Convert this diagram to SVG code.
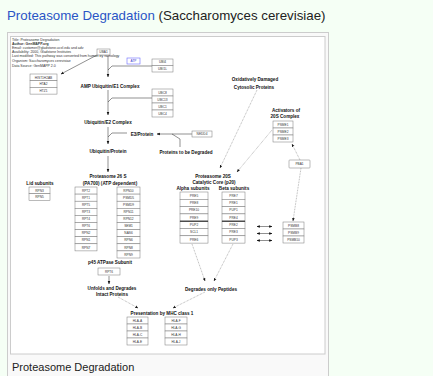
<svg xmlns="http://www.w3.org/2000/svg" width="433" height="376" viewBox="0 0 433 376">
<defs>
<marker id="ah" viewBox="0 0 10 10" refX="9" refY="5" markerWidth="3.2" markerHeight="3.2" markerUnits="userSpaceOnUse" orient="auto-start-reverse"><path d="M0,1 L10,5 L0,9 z" fill="#111"/></marker>
</defs>
<style>
.lb{font-family:"Liberation Sans",Arial,sans-serif;font-size:4.6px;font-weight:bold;text-anchor:middle;fill:#111}
.bx rect{fill:#fff;stroke:#777;stroke-width:0.5}
.bx text{font-family:"Liberation Sans",Arial,sans-serif;font-size:3.2px;text-anchor:middle;fill:#333}
.c{fill:none;stroke:#222;stroke-width:0.5}
.d{fill:none;stroke:#555;stroke-width:0.45;stroke-dasharray:0.8 0.8}
.lg{font-family:"Liberation Sans",Arial,sans-serif;font-size:3.5px;fill:#333}
.sep{stroke:#333;stroke-width:1.2}
</style>
<rect width="433" height="376" fill="#f5fff5"/>
<text x="7" y="20" font-family="Liberation Sans, Arial, sans-serif" font-size="13.3" fill="#2a55c6">Proteasome Degradation <tspan fill="#222">(Saccharomyces cerevisiae)</tspan></text>
<rect x="7.5" y="32.5" width="321" height="350" fill="#f9f9f9" stroke="#ccc"/>
<rect x="10.5" y="36.5" width="314.5" height="317.5" fill="#fff" stroke="#ccc"/>
<text x="12" y="371" font-family="Liberation Sans, Arial, sans-serif" font-size="11" fill="#222">Proteasome Degradation</text>

<g id="legend">
<text class="lg" x="12" y="41">Title: Proteasome Degradation</text>
<text class="lg" x="12" y="45" fill="#3a9a3a" font-weight="bold">Author: GenMAPP.org</text>
<text class="lg" x="12" y="49">Email: customer@gladstone.ucsf.edu and adv</text>
<text class="lg" x="12" y="53">Availability: 2000, Gladstone Institutes</text>
<text class="lg" x="12" y="57">Last modified: This pathway was converted from human by homology</text>
<text class="lg" x="12" y="62">Organism: Saccharomyces cerevisiae</text>
<text class="lg" x="12" y="66.5">Data Source: GenMAPP 2.0</text>
</g>

<g id="connectors">
<path class="c" d="M97,55 L61,74" marker-end="url(#ah)"/>
<path class="c" d="M108,56 V77" marker-end="url(#ah)"/>
<path class="c" d="M152,66 H112 L108,70"/>
<path class="c" d="M108,90 V115" marker-end="url(#ah)"/>
<path class="c" d="M152,98 H112 L108,102"/>
<path class="c" d="M108,127 V144" marker-end="url(#ah)"/>
<path class="c" d="M127,133 H112 L108,137"/>
<path class="c" d="M192,134 H157" marker-end="url(#ah)"/>
<path class="c" d="M172,134 L180,139 V147"/>
<path class="c" d="M108,156 V172" marker-end="url(#ah)"/>
<path class="d" d="M257,90 L220,168" marker-end="url(#ah)"/>
<path class="d" d="M272,130 L237,172" marker-end="url(#ah)"/>
<path class="d" d="M300,160 L292,144" marker-end="url(#ah)"/>
<path class="d" d="M301,168 L293,221" marker-end="url(#ah)"/>
<path class="d" d="M192,244 L205,281" marker-end="url(#ah)"/>
<path class="d" d="M233,244 L214,281" marker-end="url(#ah)"/>
<path class="c" d="M109,276 V284" marker-end="url(#ah)"/>
<path class="d" d="M118,297 L138,308" marker-end="url(#ah)"/>
<path class="d" d="M205,292 L173,308" marker-end="url(#ah)"/>
<path class="c" d="M257,226.5 H272" marker-start="url(#ah)" marker-end="url(#ah)"/>
<path class="c" d="M257,233.5 H272" marker-start="url(#ah)" marker-end="url(#ah)"/>
<path class="c" d="M257,240.5 H272" marker-start="url(#ah)" marker-end="url(#ah)"/>
</g>

<g id="histones" class="bx">
<rect x="30" y="74" width="27" height="6.7"/><text x="43.5" y="78.5">HIST1H2AB</text>
<rect x="30" y="80.7" width="27" height="6.7"/><text x="43.5" y="85.2">HTA2</text>
<rect x="30" y="87.4" width="27" height="6.7"/><text x="43.5" y="91.9">HTZ1</text>
</g>
<g id="uba1" class="bx"><rect x="97" y="49" width="13" height="6"/><text x="103.5" y="53.2">UBA1</text></g>
<g id="atp"><rect x="127" y="58" width="13" height="6" fill="#fff" stroke="#6a6aff" stroke-width="0.6"/><text x="133.5" y="62.2" font-family="Liberation Sans, Arial, sans-serif" font-size="3.2" text-anchor="middle" fill="#33c">ATP</text></g>
<g id="ubiquitins" class="bx">
<rect x="152" y="59" width="21" height="6.5"/><text x="162.5" y="63.4">UBI4</text>
<rect x="152" y="65.5" width="21" height="6.5"/><text x="162.5" y="69.9">UBI1L</text>
</g>
<g id="e1-complex"><text class="lb" x="110" y="88">AMP Ubiquitin/E1 Complex</text></g>
<g id="e2-enzymes" class="bx">
<rect x="152" y="89" width="21" height="7"/><text x="162.5" y="93.6">UBC8</text>
<rect x="152" y="96" width="21" height="7"/><text x="162.5" y="100.6">UBC13</text>
<rect x="152" y="103" width="21" height="7"/><text x="162.5" y="107.6">UBC1</text>
<rect x="152" y="110" width="21" height="7"/><text x="162.5" y="114.6">UBC4</text>
</g>
<g id="e2-complex"><text class="lb" x="108" y="124">Ubiquitin/E2 Complex</text></g>
<g id="e3-protein"><text class="lb" x="142" y="135.6">E3/Protein</text></g>
<g id="nedd4" class="bx"><rect x="192" y="131" width="20" height="6"/><text x="202" y="135.2">NEDD4</text></g>
<g id="proteins-degraded"><text class="lb" x="186" y="153.5">Proteins to be Degraded</text></g>
<g id="ubiquitin-protein"><text class="lb" x="108" y="153">Ubiquitin/Protein</text></g>
<g id="proteasome-26s"><text class="lb" x="108" y="178">Proteasome 26 S</text><text class="lb" x="110" y="184.5">(PA700) (ATP dependent)</text></g>
<g id="lid-subunits">
<text class="lb" x="40" y="184.5">Lid subunits</text>
<g class="bx">
<rect x="29" y="187" width="21" height="6.7"/><text x="39.5" y="191.5">RPN3</text>
<rect x="29" y="193.7" width="21" height="6.7"/><text x="39.5" y="198.2">RPN5</text>
</g>
</g>
<g id="rpt-column" class="bx">
<rect x="75" y="187" width="22" height="7.1"/><text x="86" y="191.7">RPT2</text>
<rect x="75" y="194.1" width="22" height="7.1"/><text x="86" y="198.8">RPT1</text>
<rect x="75" y="201.2" width="22" height="7.1"/><text x="86" y="205.9">RPT5</text>
<rect x="75" y="208.3" width="22" height="7.1"/><text x="86" y="213">RPT3</text>
<rect x="75" y="215.4" width="22" height="7.1"/><text x="86" y="220.1">RPT4</text>
<rect x="75" y="222.5" width="22" height="7.1"/><text x="86" y="227.2">RPT6</text>
<rect x="75" y="229.6" width="22" height="7.1"/><text x="86" y="234.3">RPN2</text>
<rect x="75" y="236.7" width="22" height="7.1"/><text x="86" y="241.4">RPN1</text>
<rect x="75" y="243.8" width="22" height="7.1"/><text x="86" y="248.5">RPN7</text>
</g>
<g id="rpn-column" class="bx">
<rect x="117" y="187" width="23" height="7.1"/><text x="128.5" y="191.7">RPN10</text>
<rect x="117" y="194.1" width="23" height="7.1"/><text x="128.5" y="198.8">PSMD5</text>
<rect x="117" y="201.2" width="23" height="7.1"/><text x="128.5" y="205.9">PSMD9</text>
<rect x="117" y="208.3" width="23" height="7.1"/><text x="128.5" y="213">RPN11</text>
<rect x="117" y="215.4" width="23" height="7.1"/><text x="128.5" y="220.1">RPN12</text>
<rect x="117" y="222.5" width="23" height="7.1"/><text x="128.5" y="227.2">SEM1</text>
<rect x="117" y="229.6" width="23" height="7.1"/><text x="128.5" y="234.3">NAS6</text>
<rect x="117" y="236.7" width="23" height="7.1"/><text x="128.5" y="241.4">RPN6</text>
<rect x="117" y="243.8" width="23" height="7.1"/><text x="128.5" y="248.5">RPN8</text>
<rect x="117" y="250.9" width="23" height="7.1"/><text x="128.5" y="255.6">RPN9</text>
</g>
<g id="p45">
<text class="lb" x="110" y="264">p45 ATPase Subunit</text>
<g class="bx"><rect x="98" y="268" width="22" height="7"/><text x="109" y="272.6">RPT6</text></g>
</g>
<g id="unfolds"><text class="lb" x="112" y="290">Unfolds and Degrades</text><text class="lb" x="112" y="296">Intact Proteins</text></g>
<g id="degrades-peptides"><text class="lb" x="211" y="290.5">Degrades only Peptides</text></g>
<g id="mhc">
<text class="lb" x="162" y="315">Presentation by MHC class 1</text>
<g class="bx">
<rect x="127" y="317" width="21" height="7"/><text x="137.5" y="321.6">HLA-A</text>
<rect x="127" y="324" width="21" height="7"/><text x="137.5" y="328.6">HLA-B</text>
<rect x="127" y="331" width="21" height="7"/><text x="137.5" y="335.6">HLA-C</text>
<rect x="127" y="338" width="21" height="7"/><text x="137.5" y="342.6">HLA-E</text>
<rect x="165" y="317" width="22" height="7"/><text x="176" y="321.6">HLA-F</text>
<rect x="165" y="324" width="22" height="7"/><text x="176" y="328.6">HLA-G</text>
<rect x="165" y="331" width="22" height="7"/><text x="176" y="335.6">HLA-H</text>
<rect x="165" y="338" width="22" height="7"/><text x="176" y="342.6">HLA-J</text>
</g>
</g>
<g id="oxidized"><text class="lb" x="255" y="81">Oxidatively Damaged</text><text class="lb" x="254" y="88.5">Cytosolic Proteins</text></g>
<g id="activators">
<text class="lb" x="286" y="111.5">Activators of</text><text class="lb" x="285" y="118">20S Complex</text>
<g class="bx">
<rect x="273" y="121" width="20" height="7"/><text x="283" y="125.6">PSME1</text>
<rect x="273" y="128" width="20" height="7"/><text x="283" y="132.6">PSME2</text>
<rect x="273" y="135" width="20" height="7"/><text x="283" y="139.6">PSME3</text>
</g>
</g>
<g id="pba1" class="bx"><rect x="289" y="160" width="21" height="8" rx="0.8"/><text x="299.5" y="165">PBA1</text></g>
<g id="proteasome-20s">
<text class="lb" x="213" y="177.5">Proteasome 20S</text>
<text class="lb" x="214" y="183.5">Catalytic Core (p20)</text>
<text class="lb" x="193" y="189.5">Alpha subunits</text>
<text class="lb" x="234" y="189.5">Beta subunits</text>
</g>
<g id="alpha-subunits" class="bx">
<rect x="180" y="192" width="28" height="7.3"/><text x="194" y="196.8">PRE5</text>
<rect x="180" y="199.3" width="28" height="7.3"/><text x="194" y="204.1">PRE8</text>
<rect x="180" y="206.6" width="28" height="7.3"/><text x="194" y="211.4">PRE10</text>
<rect x="180" y="213.9" width="28" height="7.3"/><text x="194" y="218.7">PRE9</text>
<rect x="180" y="221.2" width="28" height="7.3"/><text x="194" y="226">PUP2</text>
<rect x="180" y="228.5" width="28" height="7.3"/><text x="194" y="233.3">SCL1</text>
<rect x="180" y="235.8" width="28" height="7.3"/><text x="194" y="240.6">PRE6</text>
<line class="sep" x1="180" y1="221.2" x2="208" y2="221.2"/>
</g>
<g id="beta-subunits" class="bx">
<rect x="222" y="192" width="23" height="7.3"/><text x="233.5" y="196.8">PRE7</text>
<rect x="222" y="199.3" width="23" height="7.3"/><text x="233.5" y="204.1">PRE1</text>
<rect x="222" y="206.6" width="23" height="7.3"/><text x="233.5" y="211.4">PUP1</text>
<rect x="222" y="213.9" width="23" height="7.3"/><text x="233.5" y="218.7">PRE4</text>
<rect x="222" y="221.2" width="23" height="7.3"/><text x="233.5" y="226">PRE2</text>
<rect x="222" y="228.5" width="23" height="7.3"/><text x="233.5" y="233.3">PRE3</text>
<rect x="222" y="235.8" width="23" height="7.3"/><text x="233.5" y="240.6">PUP3</text>
<line class="sep" x1="222" y1="221.2" x2="245" y2="221.2"/>
</g>
<g id="immunoproteasome" class="bx">
<rect x="283" y="222" width="21" height="7"/><text x="293.5" y="226.6">PSMB8</text>
<rect x="283" y="229" width="21" height="7"/><text x="293.5" y="233.6">PSMB9</text>
<rect x="283" y="236" width="21" height="7"/><text x="293.5" y="240.6">PSMB10</text>
</g>
</svg>
